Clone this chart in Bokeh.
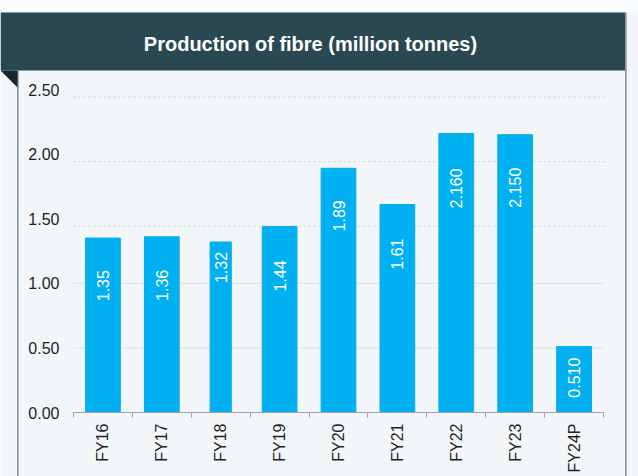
import math
from bokeh.plotting import figure
from bokeh.models import ColumnDataSource, Range1d, FixedTicker, PrintfTickFormatter
from bokeh.core.properties import value
from bokeh.embed import file_html
from bokeh.resources import INLINE

# ---- data ----
categories = ["FY16", "FY17", "FY18", "FY19", "FY20", "FY21", "FY22", "FY23", "FY24P"]
production = [1.35, 1.36, 1.32, 1.44, 1.89, 1.61, 2.16, 2.15, 0.51]
value_labels = ["1.35", "1.36", "1.32", "1.44", "1.89", "1.61", "2.160", "2.150", "0.510"]
y_ticks = [0.0, 0.5, 1.0, 1.5, 2.0, 2.5]
title_text = "Production of fibre (million tonnes)"

# ---- styles ----
bar_widths = [0.59, 0.59, 0.36, 0.59, 0.59, 0.59, 0.59, 0.59, 0.59]
label_gap_px = [32, 33, 10, 34, 32, 34, 35, 33, 11]
BAR = "#00b0f0"
PANEL = "#f3f6f8"
HEADER = "#294851"
BORDER = "#8a979c"
FONT = "Liberation Sans"

W, H = 638, 476
# plot-area placement (pixels): category axis from 73 to 603, zero line at 412, 129.2 px per unit
PL, PR, P0, PPU = 73, 603, 412, 129.2
n = len(categories)
cw = (PR - PL) / n
x_start = -0.5 - PL / cw
x_end = x_start + W / cw
y_end = P0 / PPU
y_start = -(H - P0) / PPU

src = ColumnDataSource(dict(
    x=list(range(n)),
    top=production,
    w=bar_widths,
    lab=value_labels,
    gap=label_gap_px,
))

p = figure(width=W, height=H, output_backend="svg", toolbar_location=None,
           x_range=Range1d(x_start, x_end), y_range=Range1d(y_start, y_end),
           min_border=0)
p.title.visible = False
p.background_fill_color = PANEL
p.border_fill_color = PANEL
p.outline_line_color = None
p.xgrid.visible = False
p.ygrid.visible = False

# pixel-space range for the frame decoration (top-left origin)
p.extra_x_ranges = {"px": Range1d(0, W)}
p.extra_y_ranges = {"px": Range1d(H, 0)}

# white strip above header, header bar, panel borders, corner fold
p.quad(left=[0], right=[W], top=[0], bottom=[12], x_range_name="px", y_range_name="px",
       fill_color="#f9fbfc", line_color=None)
p.quad(left=[0], right=[625], top=[12], bottom=[70], x_range_name="px", y_range_name="px",
       fill_color=HEADER, line_color=None)
p.quad(left=[16.5, 624.5], right=[18.2, 626.2], top=[70, 12], bottom=[H, H],
       x_range_name="px", y_range_name="px", fill_color=BORDER, line_color=None)
p.patch(x=[0, 17, 17], y=[70, 70, 87], x_range_name="px", y_range_name="px",
        fill_color="#15262c", line_color=None)
p.text(x=[W / 2 - 9], y=[43], text=[title_text], x_range_name="px", y_range_name="px",
       text_align="center", text_baseline="middle", text_color="white",
       text_font=value(FONT), text_font_style="bold", text_font_size="20px")

# gridlines (solid lower ones, dotted upper ones sit slightly low as in the source)
grid_shift = 7.5 / PPU
solid = [t for t in y_ticks if 0 < t <= 1.0]
dotted = [t - grid_shift for t in y_ticks if t > 1.0]
p.segment(x0=[-0.5] * len(solid), x1=[n - 0.5] * len(solid), y0=solid, y1=solid,
          line_color="#dde2e5", line_width=1)
p.segment(x0=[-0.5] * len(dotted), x1=[n - 0.47] * len(dotted), y0=dotted, y1=dotted,
          line_color="#c9ced2", line_width=1, line_dash="2 3")

# bars and their labels
p.vbar(x="x", top="top", width="w", source=src, fill_color=BAR, line_color=BAR)
p.text(x="x", y="top", text="lab", source=src, angle=math.pi / 2, y_offset="gap",
       text_align="right", text_baseline="middle", text_color="white",
       text_font=value(FONT), text_font_size="16px")

# axes
xa = p.xaxis[0]
xa.fixed_location = 0
xa.bounds = (-0.5, n - 0.5)
xa.ticker = FixedTicker(ticks=list(range(n)), minor_ticks=[i - 0.5 for i in range(n + 1)])
xa.major_label_overrides = {i: c for i, c in enumerate(categories)}
xa.major_label_orientation = math.pi / 2
xa.major_tick_line_color = None
xa.minor_tick_line_color = "#a3a3a3"
xa.minor_tick_out = 5
xa.minor_tick_in = 0
xa.axis_line_color = "#a3a3a3"
xa.major_label_standoff = 5
xa.major_label_text_font = FONT
xa.major_label_text_font_size = "16px"
xa.major_label_text_color = "#1e1e1e"

ya = p.yaxis[0]
ya.fixed_location = -0.5
ya.bounds = (0, 2.5)
ya.ticker = FixedTicker(ticks=y_ticks)
ya.formatter = PrintfTickFormatter(format="%.2f")
ya.axis_line_color = None
ya.major_tick_line_color = None
ya.minor_tick_line_color = None
ya.major_tick_out = 0
ya.major_label_standoff = 14
ya.major_label_text_font = FONT
ya.major_label_text_font_size = "16px"
ya.major_label_text_color = "#1e1e1e"

open("out.html", "w").write(file_html(p, INLINE))
